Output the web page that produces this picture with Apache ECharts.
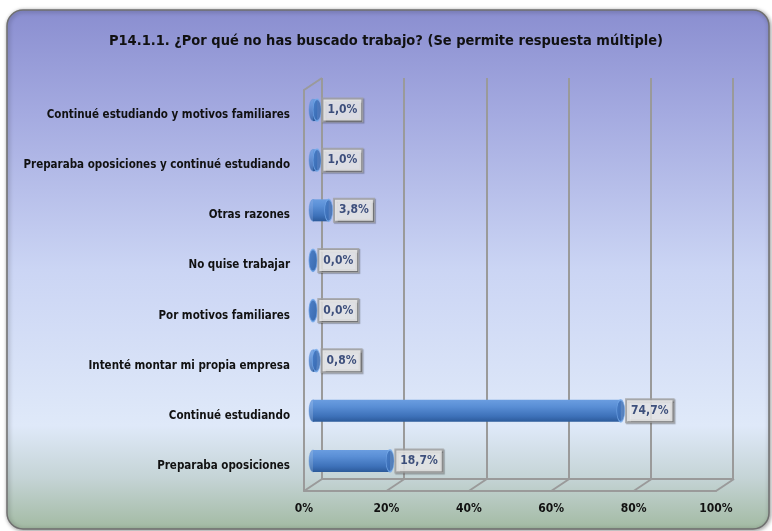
<!DOCTYPE html>
<html>
<head>
<meta charset="utf-8">
<script src="https://cdn.jsdelivr.net/npm/echarts@6/dist/echarts.min.js"></script>
<style>
html,body{margin:0;padding:0;background:#ffffff;}
#chart{width:772px;height:531px;}
</style>
</head>
<body>
<div id="chart"></div>
<script>
var titleText = 'P14.1.1. ¿Por qué no has buscado trabajo? (Se permite respuesta múltiple)';
var categories = [
  'Continué estudiando y motivos familiares',
  'Preparaba oposiciones y continué estudiando',
  'Otras razones',
  'No quise trabajar',
  'Por motivos familiares',
  'Intenté montar mi propia empresa',
  'Continué estudiando',
  'Preparaba oposiciones'
];
var values = [1.0, 1.0, 3.8, 0.0, 0.0, 0.8, 74.7, 18.7];
var tickValues = [0, 20, 40, 60, 80, 100];

var FONT = "'Liberation Sans Narrow','Arial Narrow','DejaVu Sans Condensed',sans-serif";
var DX = 18, DY = 12;

var chart = echarts.init(document.getElementById('chart'), null, {renderer: 'canvas'});

function fmt(v) { return v.toFixed(1).replace('.', ',') + '%'; }

var barGrad = new echarts.graphic.LinearGradient(0, 0, 0, 1, [
  {offset: 0, color: '#6a9de0'},
  {offset: 0.3, color: '#5a8fd6'},
  {offset: 0.75, color: '#3d71b9'},
  {offset: 1, color: '#2c5a9a'}
]);

var option = {
  animation: false,
  title: {
    text: titleText,
    left: 'center',
    top: 29,
    textStyle: {fontFamily: FONT, fontSize: 14.5, fontWeight: 'bold', color: '#111111'}
  },
  graphic: [{
    type: 'rect',
    z: -10,
    silent: true,
    shape: {x: 7, y: 10, width: 762, height: 519, r: 16},
    style: {
      fill: new echarts.graphic.LinearGradient(0, 0, 0, 1, [
        {offset: 0, color: '#8a8ed0'},
        {offset: 0.2, color: '#a4aae0'},
        {offset: 0.5, color: '#cbd5f4'},
        {offset: 0.8, color: '#dfe9f9'},
        {offset: 0.9, color: '#c5d4d6'},
        {offset: 1, color: '#a2baa2'}
      ]),
      stroke: '#6f6f6f',
      lineWidth: 1.5,
      shadowColor: 'rgba(0,0,0,0.4)',
      shadowBlur: 4,
      shadowOffsetX: 1,
      shadowOffsetY: 1
    }
  }],
  grid: [
    {left: 304, width: 412, top: 90, height: 401},
    {left: 322, width: 411, top: 78, height: 401},
    {left: 313, width: 412, top: 85, height: 401}
  ],
  xAxis: [
    {
      gridIndex: 0, type: 'value', min: 0, max: 100, interval: 20,
      axisLine: {show: true, lineStyle: {color: '#9a9a9a', width: 2}},
      axisTick: {show: false},
      splitLine: {show: false},
      axisLabel: {
        margin: 12,
        formatter: function (v) { return v + '%'; },
        fontFamily: FONT, fontSize: 12, fontWeight: 'bold', color: '#111111'
      }
    },
    {
      gridIndex: 1, type: 'value', min: 0, max: 100, interval: 20,
      axisLine: {show: true, lineStyle: {color: '#9a9a9a', width: 2}},
      axisTick: {show: false},
      axisLabel: {show: false},
      splitLine: {show: true, showMinLine: true, showMaxLine: true, lineStyle: {color: '#9a9a9a', width: 2}}
    },
    {
      gridIndex: 2, type: 'value', min: 0, max: 100, interval: 20,
      show: false
    }
  ],
  yAxis: [
    {
      gridIndex: 0, type: 'category', data: categories, inverse: true,
      axisLine: {show: true, lineStyle: {color: '#9a9a9a', width: 2}},
      axisTick: {show: false},
      splitLine: {show: false},
      axisLabel: {
        margin: 14,
        fontFamily: FONT, fontSize: 11.5, fontWeight: 'bold', color: '#111111'
      }
    },
    {
      gridIndex: 1, type: 'category', data: categories, inverse: true,
      show: false
    },
    {
      gridIndex: 2, type: 'category', data: categories, inverse: true,
      show: false
    }
  ],
  series: [
    {
      type: 'custom',
      xAxisIndex: 0, yAxisIndex: 0,
      silent: true,
      z: 1,
      data: tickValues.map(function (v) { return [v, 0]; }),
      encode: {x: 0, y: 1},
      renderItem: function (params, api) {
        var x = api.coord([api.value(0), 0])[0];
        var cs = params.coordSys;
        var by = cs.y + cs.height;
        var st = {stroke: '#9a9a9a', lineWidth: 2};
        var children = [{
          type: 'line',
          shape: {x1: x, y1: by, x2: x + DX, y2: by - DY},
          style: st
        }];
        if (api.value(0) === 0) {
          children.push({
            type: 'line',
            shape: {x1: cs.x, y1: cs.y, x2: cs.x + DX, y2: cs.y - DY},
            style: st
          });
        }
        return {type: 'group', children: children};
      }
    },
    {
      name: 'leftcap',
      type: 'scatter',
      xAxisIndex: 2, yAxisIndex: 2,
      silent: true,
      z: 3,
      symbol: 'circle',
      symbolSize: [8, 22],
      data: values.map(function (v, i) { return [0, i]; }),
      itemStyle: {color: barGrad, borderColor: '#5a90d8', borderWidth: 0.5}
    },
    {
      name: 'body',
      type: 'bar',
      xAxisIndex: 2, yAxisIndex: 2,
      silent: true,
      z: 4,
      barWidth: 22,
      data: values,
      itemStyle: {color: barGrad}
    },
    {
      name: 'rightcap',
      type: 'scatter',
      xAxisIndex: 2, yAxisIndex: 2,
      silent: true,
      z: 5,
      symbol: 'circle',
      symbolSize: [8, 22],
      data: values.map(function (v, i) { return [v, i]; }),
      itemStyle: {
        color: new echarts.graphic.LinearGradient(0, 0, 1, 0, [
          {offset: 0, color: '#4276c0'},
          {offset: 1, color: '#3264aa'}
        ]),
        borderColor: '#78acec',
        borderWidth: 1
      },
      label: {
        show: true,
        position: 'right',
        distance: 2,
        formatter: function (p) { return fmt(p.value[0]); },
        fontFamily: FONT, fontSize: 12, fontWeight: 'bold', color: '#142a62',
        backgroundColor: '#f3f3f3',
        borderColor: '#a3a3a3',
        borderWidth: 2,
        padding: [5, 4, 4, 4],
        shadowColor: 'rgba(0,0,0,0.35)',
        shadowBlur: 1,
        shadowOffsetX: 1,
        shadowOffsetY: 1
      }
    }
  ]
};

chart.setOption(option);
</script>
</body>
</html>
